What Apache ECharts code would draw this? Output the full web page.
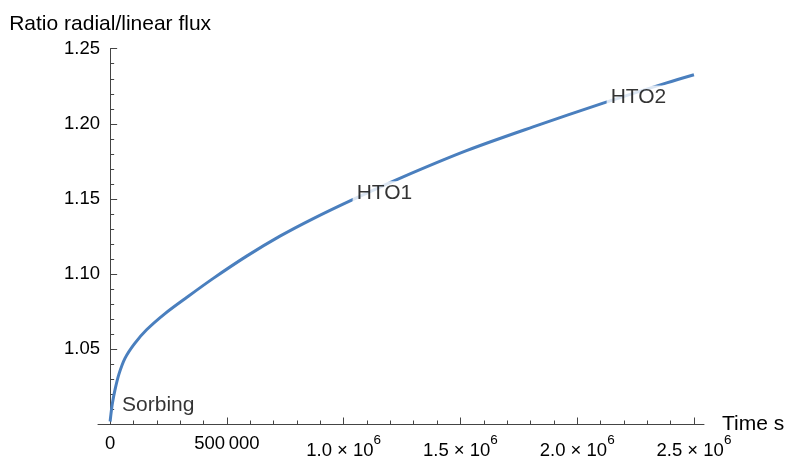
<!DOCTYPE html>
<html>
<head>
<meta charset="utf-8">
<script src="https://cdn.jsdelivr.net/npm/echarts@6/dist/echarts.min.js"></script>
<style>
  html, body { margin: 0; padding: 0; background: #fff; }
  #chart { width: 789px; height: 456px; }
</style>
</head>
<body>
<div id="chart"></div>
<script>
// Time (s) and ratio of radial to linear flux
const times = [0, 2000, 9000, 20500, 37700, 63400, 103000, 156000, 235000, 327600,
  441500, 584500, 727100, 869700, 1034000, 1240000, 1526000, 1811000, 2111000, 2383000, 2500000];
const ratios = [1.002, 1.005, 1.0135, 1.0229, 1.0335, 1.044, 1.0535, 1.063, 1.0738, 1.0845,
  1.0972, 1.112, 1.1253, 1.137, 1.1493, 1.1638, 1.1822, 1.198, 1.2138, 1.2273, 1.2327];

// Annotations placed along the curve
const noteNames = ['Sorbing', 'HTO1', 'HTO2'];
const noteTimes = [206000, 1174600, 2262300];
const noteValues = [1.0129, 1.1542, 1.2179];

// Axis ticks and their labels
const majorTimeTicks = [0, 500000, 1000000, 1500000, 2000000, 2500000];
const minorTimeTicks = [100000, 200000, 300000, 400000, 600000, 700000, 800000, 900000,
  1100000, 1200000, 1300000, 1400000, 1600000, 1700000, 1800000, 1900000,
  2100000, 2200000, 2300000, 2400000];
const timeTickLabels = ['0', '500\u2009000', '1.0|6', '1.5|6', '2.0|6', '2.5|6'];

const FONT = '"Liberation Sans", Arial, sans-serif';
const AXIS_COLOR = '#444';
const TMIN = -52000, TMAX = 2543000;

// plain labels (0, 500 000) and power-of-ten labels are laid out on separate axes
const plainLabelTicks = majorTimeTicks.filter((v, i) => timeTickLabels[i].indexOf('|') < 0);
const powerLabelTicks = majorTimeTicks.filter((v, i) => timeTickLabels[i].indexOf('|') >= 0);

function timeLabel(value) {
  const i = majorTimeTicks.indexOf(value);
  if (i < 0) return '';
  const txt = timeTickLabels[i];
  if (txt.indexOf('|') < 0) return txt;
  const parts = txt.split('|');
  return '{m|' + parts[0] + ' \u00d7 10}{s|' + parts[1] + '}';
}

const chart = echarts.init(document.getElementById('chart'), null, { renderer: 'canvas' });

const gridBox = { left: 98, right: 85, top: 48.7, bottom: 31.5, outerBoundsMode: 'none', containLabel: false };

chart.setOption({
  animation: false,
  backgroundColor: '#fff',
  textStyle: { fontFamily: FONT },
  grid: [Object.assign({}, gridBox), Object.assign({}, gridBox)],
  xAxis: [{
    gridIndex: 0,
    type: 'value',
    min: TMIN,
    max: TMAX,
    name: 'Time s',
    nameLocation: 'end',
    nameGap: 18,
    nameMoveOverlap: false,
    nameTruncate: { maxWidth: null },
    nameTextStyle: { fontSize: 21, color: '#000', fontFamily: FONT, verticalAlign: 'middle', overflow: 'none' },
    axisLine: { onZero: false, lineStyle: { color: AXIS_COLOR, width: 1 } },
    axisTick: { customValues: majorTimeTicks, inside: true, length: 7, lineStyle: { color: AXIS_COLOR } },
    axisLabel: {
      customValues: powerLabelTicks,
      margin: 8.5,
      color: '#000',
      fontSize: 18.5,
      fontFamily: FONT,
      formatter: timeLabel,
      rich: {
        m: { fontSize: 18.5, fontFamily: FONT, color: '#000', lineHeight: 27, verticalAlign: 'bottom' },
        s: { fontSize: 13.5, fontFamily: FONT, color: '#000', lineHeight: 27, verticalAlign: 'top' }
      }
    },
    splitLine: { show: false }
  }, {
    gridIndex: 1,
    type: 'value',
    min: TMIN,
    max: TMAX,
    axisLine: { show: false, onZero: false },
    axisTick: { customValues: minorTimeTicks, inside: true, length: 4, lineStyle: { color: AXIS_COLOR } },
    axisLabel: {
      customValues: plainLabelTicks,
      margin: 8,
      color: '#000',
      fontSize: 18.5,
      fontFamily: FONT,
      lineHeight: 22,
      formatter: timeLabel
    },
    splitLine: { show: false }
  }],
  yAxis: [{
    gridIndex: 0,
    type: 'value',
    min: 1.0,
    max: 1.25,
    interval: 0.05,
    name: 'Ratio radial/linear flux',
    nameLocation: 'end',
    nameGap: 14,
    nameMoveOverlap: false,
    nameTextStyle: { fontSize: 21, color: '#000', fontFamily: FONT, align: 'center' },
    axisLine: { show: true, onZero: true, lineStyle: { color: AXIS_COLOR, width: 1 } },
    axisTick: { show: true, inside: true, length: 7, lineStyle: { color: AXIS_COLOR } },
    minorTick: { show: true, splitNumber: 5, length: 4, lineStyle: { color: AXIS_COLOR } },
    axisLabel: {
      showMinLabel: false,
      margin: -2,
      color: '#000',
      fontSize: 18.5,
      fontFamily: FONT,
      formatter: v => v.toFixed(2)
    },
    splitLine: { show: false }
  }, {
    gridIndex: 1,
    type: 'value',
    min: 1.0,
    max: 1.25,
    show: false
  }],
  series: [{
    type: 'line',
    xAxisIndex: 0,
    yAxisIndex: 0,
    data: times.map((t, i) => [t, ratios[i]]),
    showSymbol: false,
    smooth: 0.3,
    lineStyle: { color: '#4a7fbe', width: 3 },
    clip: false,
    z: 2
  }, {
    type: 'scatter',
    xAxisIndex: 0,
    yAxisIndex: 0,
    data: noteNames.map((n, i) => ({ name: n, value: [noteTimes[i], noteValues[i]] })),
    symbolSize: 1,
    itemStyle: { color: 'rgba(0,0,0,0)' },
    z: 5,
    label: {
      show: true,
      position: 'inside',
      formatter: p => p.name,
      color: '#000',
      fontSize: 21,
      fontFamily: FONT,
      backgroundColor: '#fff',
      padding: [1, 4, 1, 4]
    },
    labelLayout: { hideOverlap: false },
    emphasis: { disabled: true },
    silent: true
  }]
});
</script>
</body>
</html>
